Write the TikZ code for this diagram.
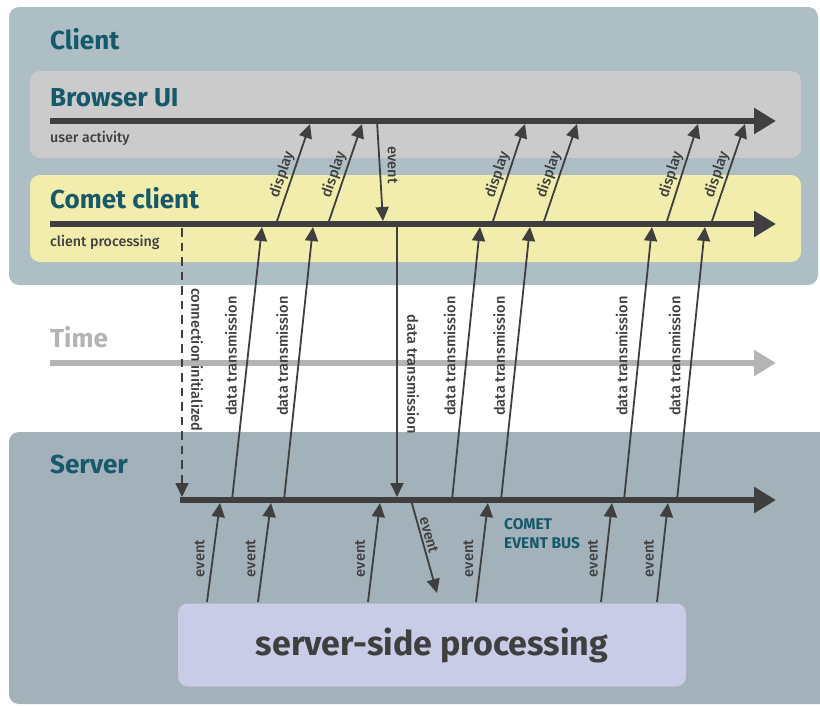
\documentclass[tikz,border=0pt]{standalone}
\usepackage{fontspec}
\setmainfont{Fira Sans}
\newfontfamily\medfont{Fira Sans Medium}
\usetikzlibrary{arrows.meta,calc}

\definecolor{clientbg}{HTML}{AEBEC5}
\definecolor{serverbg}{HTML}{A2B1BA}
\definecolor{browserbg}{HTML}{CBCBCB}
\definecolor{cometbg}{HTML}{F3EDAD}
\definecolor{procbg}{HTML}{C9CCE6}
\definecolor{ink}{HTML}{3F3F3F}
\definecolor{teal}{HTML}{16596A}
\definecolor{timegray}{HTML}{B4B4B4}

\begin{document}
\begin{tikzpicture}[x=1pt,y=-1pt,
  panel/.style={fill=#1, rounded corners=10pt},
  timeline/.style={draw=#1, line width=6pt,
    -{Triangle[length=22pt,width=25pt]}},
  msg/.style={draw=ink, line width=1.8pt,
    -{Triangle[length=14pt,width=13pt]}},
  heading/.style={anchor=base west, inner sep=0pt, text=teal,
    font=\fontsize{26}{30}\selectfont\bfseries},
  lane/.style={anchor=base west, inner sep=0pt, text=teal,
    font=\fontsize{26}{30}\selectfont\bfseries},
  note/.style={anchor=base west, inner sep=0pt, text=ink,
    font=\fontsize{14.2}{17}\medfont},
  lbl/.style={text=ink, inner sep=1pt, font=\fontsize{14.6}{17}\medfont},
  busname/.style={anchor=base west, inner sep=0pt, text=teal,
    font=\fontsize{15.5}{19}\selectfont\bfseries},
]
\useasboundingbox (0,0) rectangle (820,705);

% panels and lanes
\path[panel=clientbg] (9,7) rectangle (818,285);
\path[panel=serverbg] (9,432) rectangle (830,704);
\path[panel=browserbg] (30,71) rectangle (801,158);
\path[panel=cometbg] (30,175) rectangle (801,262);
\node[panel=procbg, minimum width=508pt, minimum height=83pt, inner sep=0pt,
      text=ink, font=\fontsize{34}{40}\selectfont\bfseries]
  (proc) at (432,645) {server-side processing};

% titles
\node[heading] (tclient) at (50,49) {Client};
\node[lane] (tbrowser) at (50,106) {Browser UI};
\node[note] (tuser) at (50,142) {user activity};
\node[lane] (tcomet) at (50,208) {Comet client};
\node[note] (tproc) at (50,246) {client processing};
\node[heading, text=timegray] (ttime) at (50,347) {Time};
\node[heading] (tserver) at (50,473) {Server};
\node[busname] (tbus1) at (504,529) {COMET};
\node[busname] (tbus2) at (504,548) {EVENT BUS};

% time lines
\coordinate (bs) at (50,121);  \coordinate (be) at (776,121);
\coordinate (cs) at (50,224);  \coordinate (ce) at (776,224);
\coordinate (ts) at (50,363);  \coordinate (te) at (776,363);
\coordinate (ss) at (180,500); \coordinate (se) at (776,500);
\draw[timeline=ink] (bs) -- (be);
\draw[timeline=ink] (cs) -- (ce);
\draw[timeline=timegray] (ts) -- (te);
\draw[timeline=ink] (ss) -- (se);

% connection set-up
\coordinate (ca) at (182,228); \coordinate (cb) at (182,497);
\draw[msg, dash pattern=on 8.5pt off 6pt] (ca) -- (cb)
  node[lbl, pos=0.49, xshift=15pt, rotate=-90] {connection initialized};

% comet client -> browser: display
\foreach \i/\a/\b in {1/276/310, 2/328/362, 3/492/525, 4/543/577, 5/666/698, 6/711/745}{
  \coordinate (d\i s) at (\a,224);
  \coordinate (d\i e) at (\b,124);
  \draw[msg] (d\i s) -- (d\i e)
    node[lbl, pos=0.46, sloped, above=1pt] {display};
}

% browser -> comet client: event
\coordinate (ue) at (377,121); \coordinate (uf) at (383,221);
\draw[msg] (ue) -- (uf)
  node[lbl, pos=0.44, xshift=13pt, rotate=-90] {event};

% server -> comet client: data transmission
\foreach \i/\a/\b in {1/232/262, 2/284/313, 3/452/480, 4/501/530, 5/624/652, 6/677/705}{
  \coordinate (u\i s) at (\a,500);
  \coordinate (u\i e) at (\b,227);
  \draw[msg] (u\i s) -- (u\i e)
    node[lbl, pos=0.527, xshift=-17pt, rotate=90] {data transmission};
}

% comet client -> server: data transmission
\coordinate (dn) at (397,224); \coordinate (dm) at (397,497);
\draw[msg] (dn) -- (dm)
  node[lbl, pos=0.55, xshift=16pt, rotate=-90] {data transmission};

% processing -> event bus: event
\foreach \i/\a/\b in {1/207/220, 2/258/271, 3/368/380, 4/476/488, 5/601/612, 6/657/668}{
  \coordinate (p\i s) at (\a,602);
  \coordinate (p\i e) at (\b,503);
  \draw[msg] (p\i s) -- (p\i e)
    node[lbl, pos=0.44, xshift=-13pt, rotate=90] {event};
}

% event bus -> processing: event
\coordinate (eb) at (411,500); \coordinate (ep) at (437,593);
\draw[msg] (eb) -- (ep)
  node[lbl, pos=0.4, sloped, above=1pt] {event};
\end{tikzpicture}
\end{document}
